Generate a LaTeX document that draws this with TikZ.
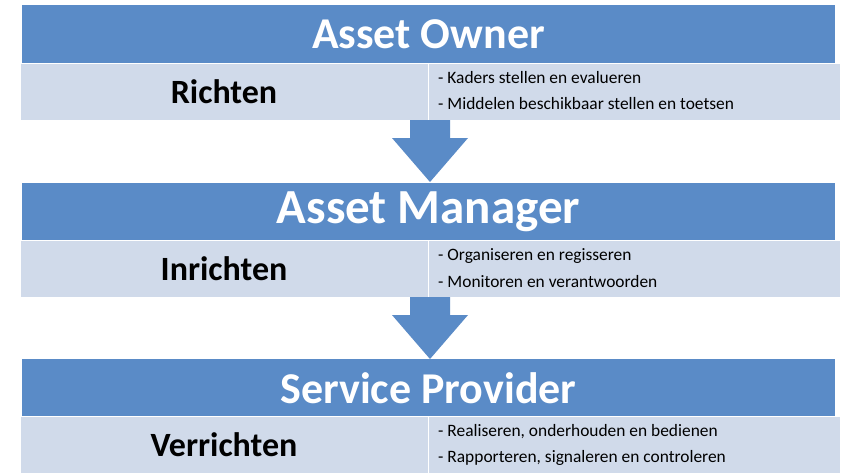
\documentclass[tikz,border=0pt]{standalone}
\usepackage{fontspec}
\setmainfont{Carlito}
\definecolor{hdrblue}{HTML}{5A8BC7}
\definecolor{rowlight}{HTML}{D0DAEA}
\definecolor{arrowblue}{HTML}{5A8BC7}
\begin{document}
\begin{tikzpicture}[x=1pt,y=-1pt,
  header/.style={fill=hdrblue, draw=none, minimum width=813pt, minimum height=58pt, inner sep=0pt,
    text=white, font=\bfseries\fontsize{44}{48}\selectfont},
  bigheader/.style={header, font=\bfseries\fontsize{49}{52}\selectfont},
  leftcell/.style={fill=rowlight, draw=white, line width=0.6pt, minimum width=408pt, minimum height=57pt, inner sep=0pt,
    font=\bfseries\fontsize{34}{38}\selectfont},
  rightcell/.style={fill=rowlight, draw=white, line width=0.6pt, minimum width=412pt, minimum height=57pt, inner sep=0pt},
  bullet/.style={anchor=west, inner sep=0pt, font=\fontsize{17.4}{20}\selectfont},
  blockarrow/.style={fill=arrowblue, draw=none}
]
\useasboundingbox (0,0) rectangle (843,472);
\fill[white] (0,0) rectangle (843,472);

% Row 1
\node[header] (h1) at (428.5,34) {Asset Owner};
\node[leftcell] (l1) at (224,91.5) {Richten};
\node[rightcell] (r1) at (634,91.5) {};
\node[bullet] (b11) at (438,78) {- Kaders stellen en evalueren};
\node[bullet] (b12) at (438,104) {- Middelen beschikbaar stellen en toetsen};

% Row 2
\node[bigheader] (h2) at (428.5,211.5) {Asset Manager};
\node[leftcell] (l2) at (224,268.5) {Inrichten};
\node[rightcell] (r2) at (634,268.5) {};
\node[bullet] (b21) at (438,256) {- Organiseren en regisseren};
\node[bullet] (b22) at (438,282) {- Monitoren en verantwoorden};

% Row 3
\node[header] (h3) at (428.5,388) {Service Provider};
\node[leftcell] (l3) at (224,444.5) {Verrichten};
\node[rightcell] (r3) at (634,444.5) {};
\node[bullet] (b31) at (438,432) {- Realiseren, onderhouden en bedienen};
\node[bullet] (b32) at (438,458) {- Rapporteren, signaleren en controleren};

% Block arrows
\fill[blockarrow] (410,120) -- (450,120) -- (450,138) -- (468,138) -- (430,182) -- (392,138) -- (410,138) -- cycle;
\fill[blockarrow] (410,297) -- (450,297) -- (450,315) -- (468,315) -- (430,359) -- (392,315) -- (410,315) -- cycle;
\end{tikzpicture}
\end{document}
